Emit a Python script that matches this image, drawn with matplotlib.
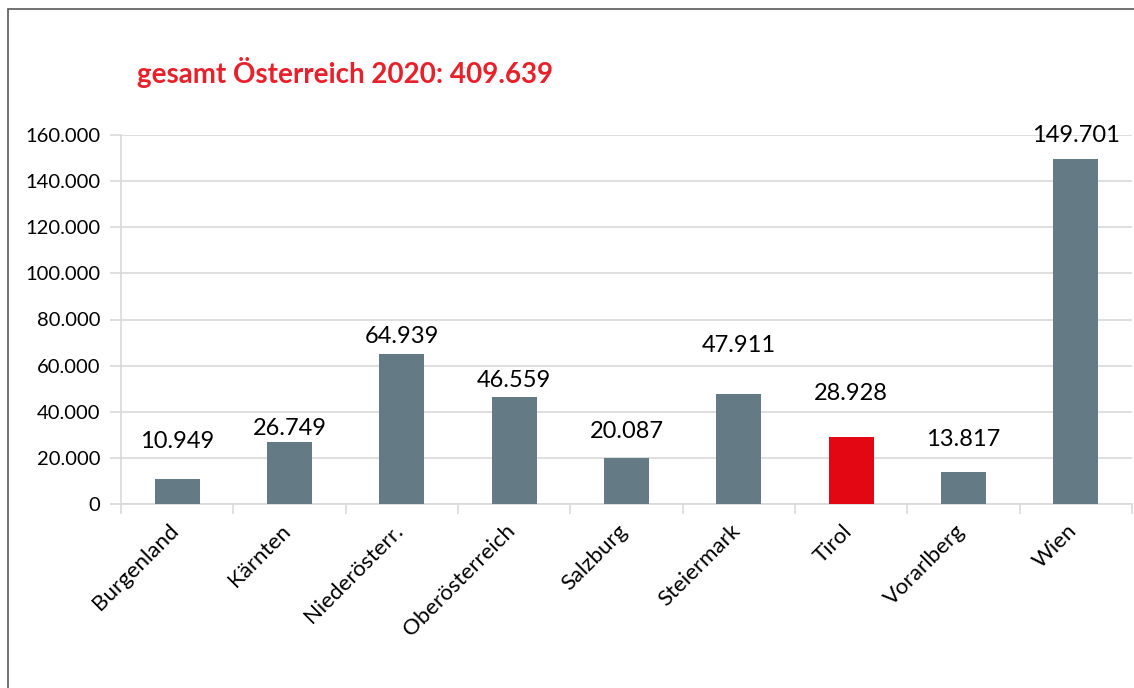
import matplotlib
matplotlib.use("Agg")
import matplotlib.pyplot as plt
import matplotlib.transforms as mtransforms
from matplotlib.patches import Rectangle
from matplotlib.ticker import FuncFormatter

plt.rcParams['font.family'] = ['Lato', 'DejaVu Sans']

# data
regions = ["Burgenland", "Kärnten", "Niederösterr.", "Oberösterreich", "Salzburg",
           "Steiermark", "Tirol", "Vorarlberg", "Wien"]
values = [10949, 26749, 64939, 46559, 20087, 47911, 28928, 13817, 149701]
highlight = "Tirol"
title = "gesamt Österreich 2020: 409.639"

# label gap above bar (pixels), as in the original
label_gap = [37, 14, 18, 16, 26, 48, 44, 33, 23]

grey = "#647a85"
red = "#e30613"

fig = plt.figure(figsize=(11.34, 6.88), dpi=100)
ax = fig.add_axes([121/1134, 1 - 504/688, 1011/1134, 369/688])

colors = [red if r == highlight else grey for r in regions]
x = range(len(regions))
ax.bar(x, values, width=0.4, color=colors, zorder=3)

def dots(v, pos=None):
    return f"{int(v):,}".replace(",", ".")

for i, v in enumerate(values):
    ax.annotate(dots(v), (i, v), xytext=(0, label_gap[i]), textcoords="offset pixels",
                ha="center", va="center", fontsize=17, color="black")

ax.set_xlim(-0.5, len(regions) - 0.5)
ax.set_ylim(0, 160000)
ax.set_yticks(range(0, 160001, 20000))
ax.yaxis.set_major_formatter(FuncFormatter(dots))
ax.grid(axis="y", color="#d9d9d9", linewidth=1.2, zorder=0)

ax.set_xticks([i - 0.5 for i in range(len(regions) + 1)], minor=False)
ax.set_xticklabels([])
ax.set_xticks(list(x), minor=True)
ax.set_xticklabels(regions, minor=True, rotation=45, ha="right", rotation_mode="anchor",
                   fontsize=16)
ax.tick_params(axis="x", which="major", length=7, color="#d9d9d9", width=1.2)
ax.tick_params(axis="x", which="minor", length=0, pad=12)
ax.tick_params(axis="y", length=8, color="#d9d9d9", width=1.2, labelsize=14.5, pad=7)

shift = mtransforms.ScaledTranslation(-9/100, 0, fig.dpi_scale_trans)
for lbl in ax.xaxis.get_minorticklabels():
    lbl.set_transform(lbl.get_transform() + shift)

for s in ["top", "right"]:
    ax.spines[s].set_visible(False)
for s in ["left", "bottom"]:
    ax.spines[s].set_color("#d9d9d9")
    ax.spines[s].set_linewidth(1.2)

fig.text(137/1134, 1 - 72/688, title, color="#e8202a", fontsize=20, fontweight="bold",
         va="center", ha="left")

# outer frame of the chart
fig.patches.append(Rectangle((8, -20), 1140, 688 - 9 + 20, transform=None,
                             fill=False, edgecolor="#595959", linewidth=1.2))

fig.savefig("out.png", dpi=100)
